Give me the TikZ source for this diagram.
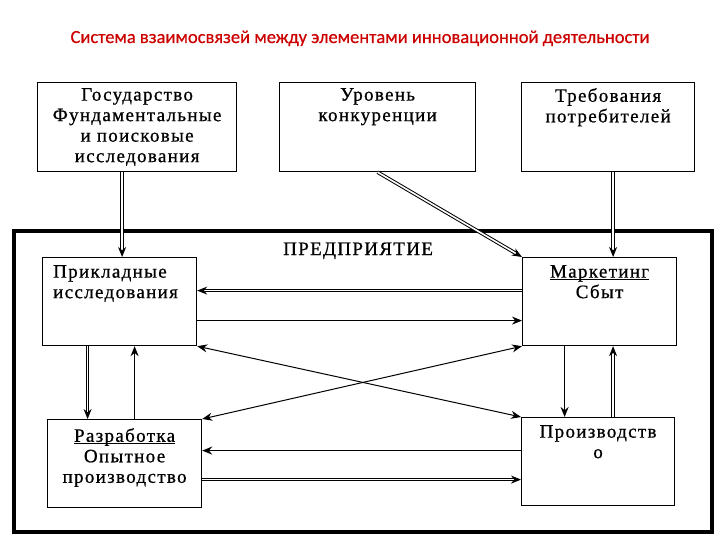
\documentclass[tikz,border=0pt]{standalone}
\usepackage{fontspec}
\setmainfont{Liberation Serif}[LetterSpace=7,FakeBold=0.8]
\newfontfamily\titlefont{Carlito}[FakeBold=0.6]
\usetikzlibrary{arrows.meta}
\definecolor{titlered}{RGB}{204,0,0}
\newcommand\ulbox[1]{\underline{\raisebox{0pt}[\height][0pt]{#1}}}
\begin{document}
\begin{tikzpicture}[x=1pt,y=-1pt,>={Stealth[length=10pt,width=8pt]},
    box/.style={draw,line width=1.2pt,inner sep=0pt,anchor=north west},
    txt/.style={inner sep=0pt,align=center,font=\fontsize{19}{20.5}\selectfont},
    dbl/.style={double,double distance=1.6pt,line width=1pt},
    thin/.style={line width=1pt},
    heavy/.style={line width=1.7pt}]
    \useasboundingbox (0,0) rectangle (720,540);
    \node[font=\titlefont\fontsize{18.5}{20}\selectfont,text=titlered,anchor=base,inner sep=0pt] (title) at (360,43)
        {Система взаимосвязей между элементами инновационной деятельности};
    \node[box,line width=3.5pt,minimum width=698,minimum height=301] (ent) at (12,229) {};
    \node[txt,anchor=base west] (entT) at (283,255) {ПРЕДПРИЯТИЕ};
    \node[box,minimum width=199,minimum height=89] (gos) at (37,82) {};
    \node[box,minimum width=196,minimum height=89] (urov) at (279,82) {};
    \node[box,minimum width=173,minimum height=89] (treb) at (521,82) {};
    \node[box,minimum width=154,minimum height=88] (prikl) at (42,257) {};
    \node[box,minimum width=154,minimum height=88] (mark) at (522,257) {};
    \node[box,minimum width=154,minimum height=88] (razr) at (47,419) {};
    \node[box,minimum width=153,minimum height=88] (proizv) at (521,417) {};
    \node[txt,anchor=north] (gosT) at ([yshift=-6pt]gos.north) {Государство\\Фундаментальные\\и поисковые\\исследования};
    \node[txt,anchor=north] (urovT) at ([yshift=-6pt]urov.north) {Уровень\\конкуренции};
    \node[txt,anchor=north] (trebT) at ([yshift=-6pt]treb.north) {Требования\\потребителей};
    \node[txt,align=left,anchor=north west] (priklT) at ([shift={(11pt,-8pt)}]prikl.north west) {Прикладные\\исследования};
    \node[txt,anchor=north] (markT) at ([yshift=-8pt]mark.north) {\ulbox{Маркетинг}\\Сбыт};
    \node[txt,anchor=north] (razrT) at ([yshift=-9pt]razr.north) {\ulbox{Разработка}\\Опытное\\производство};
    \node[txt,anchor=north] (proizvT) at ([yshift=-8pt]proizv.north) {Производств\\о};
    \draw[dbl,->] ([xshift=-15pt]gos.south) -- ([xshift=-15pt]gos.south |- prikl.north);
    \draw[dbl,->] (urov.south) -- (mark.north west);
    \draw[dbl,->] ([xshift=5pt]treb.south) -- ([xshift=5pt]treb.south |- mark.north);
    \draw[dbl,->] ([yshift=11pt]mark.west) -- ([yshift=11pt]mark.west -| prikl.east);
    \draw[thin,->] ([yshift=-19pt]prikl.east) -- ([yshift=-19pt]prikl.east -| mark.west);
    \draw[dbl,->] ([xshift=-32pt]prikl.south) -- ([xshift=-32pt]prikl.south |- razr.north);
    \draw[thin,->] ([xshift=10pt]razr.north) -- ([xshift=10pt]razr.north |- prikl.south);
    \draw[thin,<->] (prikl.south east) -- (proizv.north west);
    \draw[thin,<->] (razr.north east) -- (mark.south west);
    \draw[heavy,->] ([yshift=13pt]razr.east -| proizv.west) -- ([yshift=13pt]razr.east);
    \draw[dbl,->] ([yshift=-16pt]razr.east) -- ([yshift=-16pt]razr.east -| proizv.west);
    \draw[heavy,->] ([xshift=-35pt]mark.south) -- ([xshift=-35pt]mark.south |- proizv.north);
    \draw[dbl,->] ([xshift=15pt]proizv.north) -- ([xshift=15pt]proizv.north |- mark.south);
\end{tikzpicture}
\end{document}
